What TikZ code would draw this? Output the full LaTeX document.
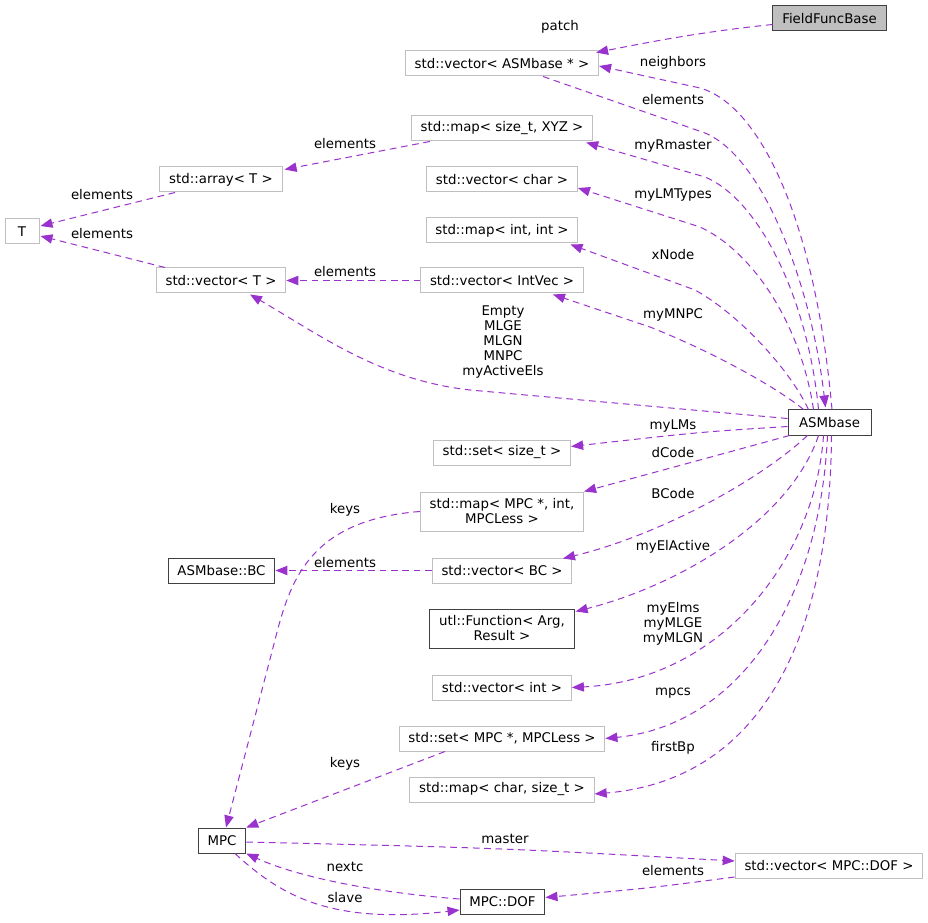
\documentclass[tikz,border=0pt]{standalone}
\usepackage{fontspec}
\setmainfont{DejaVu Sans}
\usetikzlibrary{arrows.meta}
\definecolor{edgecol}{HTML}{9A32CD}
\definecolor{boxgray}{HTML}{BFBFBF}
\definecolor{boxdark}{HTML}{404040}

\begin{document}
\begin{tikzpicture}[x=0.75pt,y=-0.75pt,>={Triangle[length=9pt,width=7pt]},
  every node/.style={font=\fontsize{10}{11.25}\selectfont},
  cls/.style={draw=boxgray,line width=0.75pt,inner xsep=7pt,inner ysep=2pt,minimum height=18.75pt,align=center},
  doc/.style={cls,draw=boxdark},
  root/.style={doc,fill=boxgray},
  rel/.style={->,draw=edgecol,line width=0.75pt,dash pattern=on 5pt off 3.5pt},
  lbl/.style={inner sep=0pt,align=center}]
\useasboundingbox (0,0) rectangle (928,923);

% classes
\node[root] (ffb) at (829.5,18.5) {FieldFuncBase};
\node[cls] (vecasm) at (502,63.5) {std::vector< ASMbase * >};
\node[cls] (mapxyz) at (502,128.5) {std::map< size\_t, XYZ >};
\node[cls] (arrT) at (221,179.5) {std::array< T >};
\node[cls] (vecchar) at (502,179.5) {std::vector< char >};
\node[cls,minimum width=25.5pt] (T) at (22,231.5) {T};
\node[cls] (mapint) at (502,230.5) {std::map< int, int >};
\node[cls] (vecT) at (221,280.5) {std::vector< T >};
\node[cls] (vecintvec) at (502,280.5) {std::vector< IntVec >};
\node[doc,minimum width=62.25pt] (asm) at (829.5,422.5) {ASMbase};
\node[cls] (setsz) at (502,452.5) {std::set< size\_t >};
\node[cls,minimum height=29.25pt] (mapmpc) at (502,511.5) {std::map< MPC *, int,\\MPCLess >};
\node[doc] (bc) at (221.5,570.5) {ASMbase::BC};
\node[cls] (vecbc) at (502,570.5) {std::vector< BC >};
\node[doc,minimum height=29.25pt] (func) at (502,628.5) {utl::Function< Arg,\\Result >};
\node[cls] (vecint) at (502,687.5) {std::vector< int >};
\node[cls] (setmpc) at (502,738.5) {std::set< MPC *, MPCLess >};
\node[cls] (mapchar) at (502,789.5) {std::map< char, size\_t >};
\node[doc] (mpc) at (222,840.5) {MPC};
\node[cls] (vecdof) at (829,865.5) {std::vector< MPC::DOF >};
\node[doc] (dof) at (502.5,901.5) {MPC::DOF};

% members of ASMbase
\draw[rel] ([shift={(2.5,0)}]asm.north) .. controls (815,220) and (760,105) .. (700,88) -- ([shift={(0,2.5)}]vecasm.east);
\draw[rel] ([shift={(41,0)}]vecasm.south) -- (705,133) .. controls (765,158) and (812,290) .. ([shift={(-4,-2)}]asm.north);
\draw[rel] ([shift={(-11,0)}]asm.north) .. controls (808,300) and (760,200) .. (705,177) -- ([shift={(-7,1)}]mapxyz.south east);
\draw[rel] ([shift={(-16,0)}]asm.north) .. controls (800,320) and (750,250) .. (700,227) -- ([shift={(0,8.5)}]vecchar.east);
\draw[rel] ([shift={(-21,0)}]asm.north) .. controls (790,370) and (740,315) .. (695,290) -- ([shift={(-8,1)}]mapint.south east);
\draw[rel] ([shift={(-26,0)}]asm.north) .. controls (780,390) and (720,355) .. (650,327) -- ([shift={(51,1)}]vecintvec.south);
\draw[rel] ([shift={(0,-4)}]asm.west) -- (470,390) .. controls (380,380) and (320,335) .. ([shift={(29,1)}]vecT.south);
\draw[rel] ([shift={(0,4)}]asm.west) .. controls (700,432) .. ([shift={(0,-6)}]setsz.east);
\draw[rel] ([shift={(2,0)}]asm.south west) .. controls (700,460) .. (mapmpc.north east);
\draw[rel] ([shift={(-22,0)}]asm.south) .. controls (760,480) and (660,535) .. ([shift={(61,1)}]vecbc.north);
\draw[rel] ([shift={(-11,0)}]asm.south) .. controls (790,520) and (680,585) .. ([shift={(1,3)}]func.north east);
\draw[rel] ([shift={(-6,0)}]asm.south) .. controls (815,560) and (720,680) .. (vecint.east);
\draw[rel] ([shift={(-2,0)}]asm.south) .. controls (820,600) and (740,725) .. (setmpc.east);
\draw[rel] ([shift={(2,0)}]asm.south) .. controls (830,640) and (760,780) .. ([shift={(0,4.5)}]mapchar.east);

% other members
\draw[rel] ([shift={(0,6)}]ffb.west) .. controls (700,32) and (650,42) .. ([shift={(-3,2)}]vecasm.north east);
\draw[rel] ([shift={(19,0)}]mapxyz.south west) -- ([shift={(2,3)}]arrT.north east);
\draw[rel] ([shift={(-46,0)}]arrT.south) -- ([shift={(1,-5.5)}]T.east);
\draw[rel] ([shift={(-56,0)}]vecT.north) -- ([shift={(1,4.5)}]T.east);
\draw[rel] (vecintvec.west) -- (vecT.east);
\draw[rel] (mapmpc.west) .. controls (310,520) and (290,580) .. (275,640) -- ([shift={(4,0)}]mpc.north);
\draw[rel] (vecbc.west) -- (bc.east);
\draw[rel] ([shift={(-57,0)}]setmpc.south) -- (mpc.north east);
\draw[rel] ([shift={(0,1.5)}]mpc.east) .. controls (500,848) .. ([shift={(0,-4.5)}]vecdof.west);
\draw[rel] ([shift={(0,-1.5)}]vecdof.south west) .. controls (650,888) .. ([shift={(0,-4)}]dof.east);
\draw[rel] ([shift={(0,-2.5)}]dof.west) .. controls (380,893) and (300,878) .. (mpc.south east);
\draw[rel] ([shift={(13,0)}]mpc.south) .. controls (280,895) and (330,925) .. ([shift={(0,8.5)}]dof.west);

% labels
\node[lbl] (lpatch) at (560,27) {patch};
\node[lbl] (lneighbors) at (673,63) {neighbors};
\node[lbl] (lelasm) at (673,100) {elements};
\node[lbl] (lrmaster) at (673,146) {myRmaster};
\node[lbl] (lelxyz) at (345,144) {elements};
\node[lbl] (llmtypes) at (673,195) {myLMTypes};
\node[lbl] (lelarr) at (102,195) {elements};
\node[lbl] (lelvecT) at (102,234) {elements};
\node[lbl] (lxnode) at (673,255) {xNode};
\node[lbl] (lelintvec) at (345,272) {elements};
\node[lbl] (lmnpc) at (673,315) {myMNPC};
\node[lbl] (lactive) at (503,342) {Empty\\MLGE\\MLGN\\MNPC\\myActiveEls};
\node[lbl] (llms) at (673,426) {myLMs};
\node[lbl] (ldcode) at (673,453) {dCode};
\node[lbl] (lbcode) at (673,494) {BCode};
\node[lbl] (lkeysmap) at (345,510) {keys};
\node[lbl] (lelactive) at (673,547) {myElActive};
\node[lbl] (lelbc) at (345,563) {elements};
\node[lbl] (lelms) at (673,624) {myElms\\myMLGE\\myMLGN};
\node[lbl] (lmpcs) at (673,693) {mpcs};
\node[lbl] (lfirstbp) at (673,748) {firstBp};
\node[lbl] (lkeysset) at (345,764) {keys};
\node[lbl] (lmaster) at (505,839) {master};
\node[lbl] (lnextc) at (345,867) {nextc};
\node[lbl] (leldof) at (673,871) {elements};
\node[lbl] (lslave) at (345,898) {slave};
\end{tikzpicture}
\end{document}
